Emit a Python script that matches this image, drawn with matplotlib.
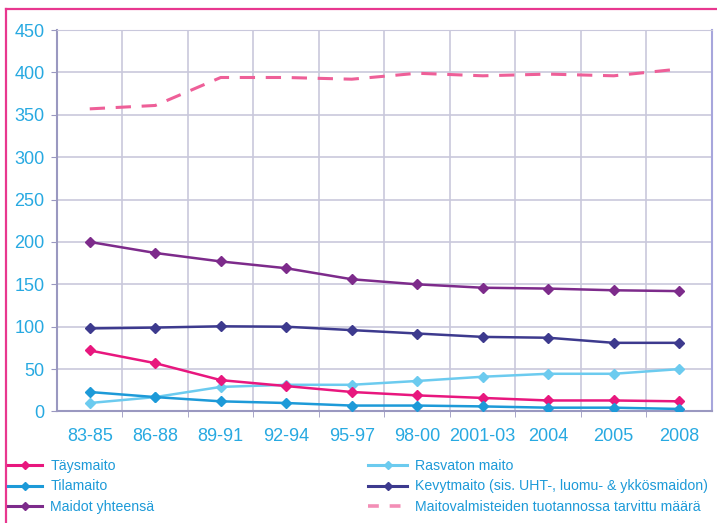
import matplotlib.pyplot as plt
from matplotlib.lines import Line2D

# periods on the x axis
periods = ['83-85', '86-88', '89-91', '92-94', '95-97', '98-00',
           '2001-03', '2004', '2005', '2008']

# milk volumes by type
taysmaito = [72, 57, 37, 30, 23, 19, 16, 13, 13, 12]
tilamaito = [23, 17, 12, 10, 7, 7, 6, 4.5, 4.5, 3]
maidot_yht = [200, 187, 177, 169, 156, 150, 146, 145, 143, 142]
rasvaton = [10, 17, 29, 31.5, 31.5, 36, 41, 44.5, 44.5, 50]
kevytmaito = [98, 99, 100.5, 100, 96, 92, 88, 87, 81, 81]
valmisteet = [357, 361, 394, 394, 392, 399, 396, 398, 396, 404]

labels_left = ['Täysmaito', 'Tilamaito', 'Maidot yhteensä']
labels_right = ['Rasvaton maito', 'Kevytmaito (sis. UHT-, luomu- & ykkösmaidon)',
                'Maitovalmisteiden tuotannossa tarvittu määrä']

c_tays = '#e8177e'
c_tila = '#1d9ad8'
c_yht = '#7d2b8b'
c_rasv = '#6ccbef'
c_kevyt = '#3d3a8e'
c_valm = '#ee5f98'
c_text = '#27a9e1'

fig = plt.figure(figsize=(7.17, 5.23), dpi=100)
ax = fig.add_axes([0.0795, 0.2132, 0.9135, 0.7294])

x = list(range(len(periods)))
mk = dict(marker='D', markersize=5, linewidth=1.8)
ax.plot(x, valmisteet, color=c_valm, linestyle=(0, (5, 3.5)), linewidth=2.2, zorder=3)
ax.plot(x, maidot_yht, color=c_yht, **mk, zorder=4)
ax.plot(x, kevytmaito, color=c_kevyt, **mk, zorder=4)
ax.plot(x, rasvaton, color=c_rasv, **mk, zorder=4)
ax.plot(x, taysmaito, color=c_tays, **mk, zorder=5)
ax.plot(x, tilamaito, color=c_tila, **mk, zorder=5)

ax.set_xlim(-0.5, 9.5)
ax.set_ylim(0, 450)
ax.set_yticks(range(0, 451, 50))
ax.set_xticks(x)
ax.set_xticklabels(periods)
ax.set_xticks([i - 0.5 for i in range(1, 10)], minor=True)

ax.grid(True, which='major', axis='y', color='#c9c8dc', linewidth=1.2)
ax.grid(True, which='minor', axis='x', color='#c9c8dc', linewidth=1.2)
ax.set_axisbelow(True)

for s in ['left', 'bottom']:
    ax.spines[s].set_color('#9a98c0')
    ax.spines[s].set_linewidth(1.5)
ax.spines['right'].set_color('#a7a6dc')
ax.spines['right'].set_linewidth(1.5)
ax.spines['top'].set_color('#c9c8dc')

ax.tick_params(axis='x', which='major', length=0, pad=12,
               labelsize=13, labelcolor=c_text)
ax.tick_params(axis='x', which='minor', length=4, color='#9a98c0', direction='out')
ax.tick_params(axis='y', length=4, color='#9a98c0', pad=5,
               labelsize=13, labelcolor=c_text)
for lab in ax.get_xticklabels() + ax.get_yticklabels():
    lab.set_fontfamily(['Liberation Sans', 'DejaVu Sans'])

# legend in two columns below the chart
h_left = [Line2D([], [], color=c, marker='D', markersize=4, linewidth=2.2)
          for c in (c_tays, c_tila, c_yht)]
h_right = [Line2D([], [], color=c_rasv, marker='D', markersize=4, linewidth=2.2),
           Line2D([], [], color=c_kevyt, marker='D', markersize=4, linewidth=2.2),
           Line2D([], [], color=c_valm, linestyle=(0, (3, 3)), linewidth=2.6, alpha=0.7)]
leg_font = {'family': ['Liberation Sans', 'DejaVu Sans'], 'size': 10.2}
leg1 = fig.legend(h_left, labels_left, loc='upper left',
                  bbox_to_anchor=(0.003, 0.133), frameon=False, prop=leg_font,
                  handlelength=2.4, handletextpad=0.6, labelspacing=0.45,
                  borderaxespad=0)
leg2 = fig.legend(h_right, labels_right, loc='upper left',
                  bbox_to_anchor=(0.505, 0.133), frameon=False, prop=leg_font,
                  handlelength=2.8, handletextpad=0.5, labelspacing=0.45,
                  borderaxespad=0)
for leg in (leg1, leg2):
    for t in leg.get_texts():
        t.set_color(c_tila)

# pink frame around the figure
fig.add_artist(Line2D([0.009, 0.009], [0.0, 0.983], color='#e8378f', linewidth=1.6,
                      transform=fig.transFigure))
fig.add_artist(Line2D([0.009, 1.0], [0.983, 0.983], color='#e8378f', linewidth=1.6,
                      transform=fig.transFigure))

fig.savefig('out.png', dpi=100)
